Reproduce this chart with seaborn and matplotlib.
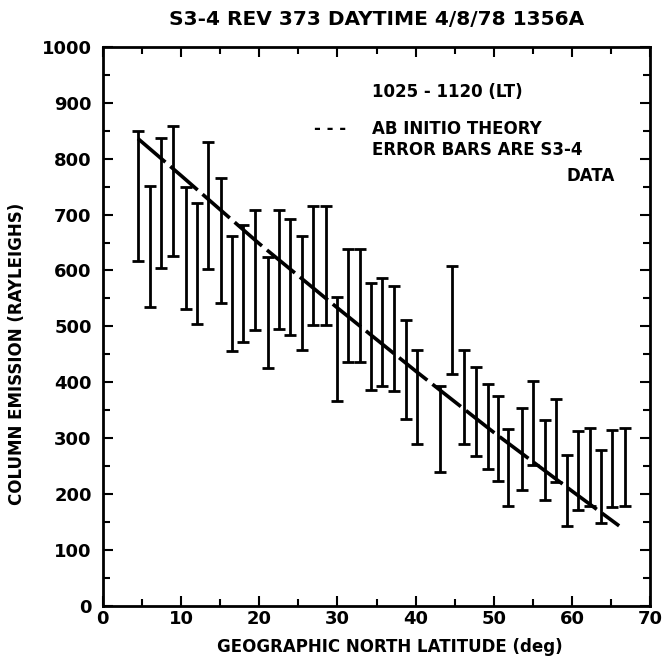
import numpy as np
import pandas as pd
import matplotlib
matplotlib.use("Agg")
import matplotlib.pyplot as plt
import seaborn as sns

# ---- data ----
lat = [4.5, 6.1, 7.5, 9.0, 10.6, 12.1, 13.4, 15.1, 16.5, 17.9, 19.5, 21.1,
       22.5, 23.9, 25.5, 26.9, 28.5, 29.9, 31.3, 32.9, 34.3, 35.7, 37.2,
       38.7, 40.2, 43.1, 44.7, 46.2, 47.7, 49.2, 50.5, 51.8, 53.6, 55.0,
       56.5, 57.9, 59.4, 60.8, 62.3, 63.7, 65.1, 66.7]
low = [617, 534, 605, 626, 531, 505, 602, 542, 456, 472, 494, 426,
       496, 484, 457, 502, 502, 366, 436, 436, 387, 394, 384,
       335, 289, 240, 415, 290, 268, 244, 223, 178, 208, 251,
       190, 222, 142, 172, 179, 148, 176, 179]
high = [850, 751, 838, 859, 750, 721, 830, 766, 661, 681, 708, 624,
        708, 693, 661, 715, 715, 552, 638, 638, 577, 587, 572,
        512, 457, 393, 608, 458, 428, 396, 376, 317, 354, 402,
        332, 370, 270, 312, 318, 278, 314, 318]

theory_lat = [4.5, 10, 20, 30, 40, 50, 60, 66]
theory_val = [836, 770, 648, 533, 420, 310, 205, 143]

title = "S3-4 REV 373 DAYTIME 4/8/78 1356A"
xlabel = "GEOGRAPHIC NORTH LATITUDE (deg)"
ylabel = "COLUMN EMISSION (RAYLEIGHS)"
xticks = [0, 10, 20, 30, 40, 50, 60, 70]
yticks = [0, 100, 200, 300, 400, 500, 600, 700, 800, 900, 1000]

sns.set_style("ticks")
plt.rcParams['font.family'] = ['DejaVu Sans']
plt.rcParams['text.color'] = 'black'
plt.rcParams['axes.labelcolor'] = 'black'
plt.rcParams['xtick.color'] = 'black'
plt.rcParams['ytick.color'] = 'black'
plt.rcParams['axes.edgecolor'] = 'black'

fig = plt.figure(figsize=(6.63, 6.62), dpi=100)
ax = fig.add_axes([0.155, 0.085, 0.826, 0.844])

# theory line
df = pd.DataFrame({"lat": theory_lat, "val": theory_val})
sns.lineplot(data=df, x="lat", y="val", ax=ax, color="black", linewidth=2.6,
             linestyle=(0, (10, 1.8)))

# error bars
lo = np.array(low, dtype=float)
hi = np.array(high, dtype=float)
mid = (lo + hi) / 2
ax.errorbar(lat, mid, yerr=[mid - lo, hi - mid], fmt="none", ecolor="black",
            elinewidth=2.0, capsize=4, capthick=2.0)

ax.set_xlim(0, 70)
ax.set_ylim(0, 1000)
ax.set_xticks(xticks)
ax.set_yticks(yticks)
ax.set_xticks(np.arange(0, 71, 5), minor=True)
ax.set_yticks(np.arange(0, 1001, 50), minor=True)
ax.tick_params(which="both", direction="in", top=True, right=True, width=1.5,
               colors="black")
ax.tick_params(which="major", length=7, labelsize=13)
ax.tick_params(axis="x", which="major", pad=3)
ax.tick_params(axis="y", which="major", pad=8)
ax.tick_params(which="minor", length=5)
for lbl in ax.get_xticklabels() + ax.get_yticklabels():
    lbl.set_fontweight("bold")
for s in ax.spines.values():
    s.set_linewidth(2.0)
    s.set_visible(True)
    s.set_color("black")

ax.set_xlabel(xlabel, fontsize=12, fontweight="bold")
ax.set_ylabel(ylabel, fontsize=12, fontweight="bold")
ax.xaxis.set_label_coords(0.525, -0.058)
ax.yaxis.set_label_coords(-0.14, 0.45)
fig.suptitle(title, fontsize=14.5, fontweight="bold", x=0.568, y=0.985)

# in-plot annotations
ax.text(34.4, 920, "1025 - 1120 (LT)", fontsize=12, fontweight="bold", va="center")
ax.text(27.0, 853, "- - -", fontsize=12, fontweight="bold", va="center")
ax.text(34.4, 853, "AB INITIO THEORY", fontsize=12, fontweight="bold", va="center")
ax.text(34.4, 815, "ERROR BARS ARE S3-4", fontsize=12, fontweight="bold", va="center")
ax.text(65.5, 770, "DATA", fontsize=12, fontweight="bold", va="center", ha="right")

fig.savefig("out.png", dpi=100)
